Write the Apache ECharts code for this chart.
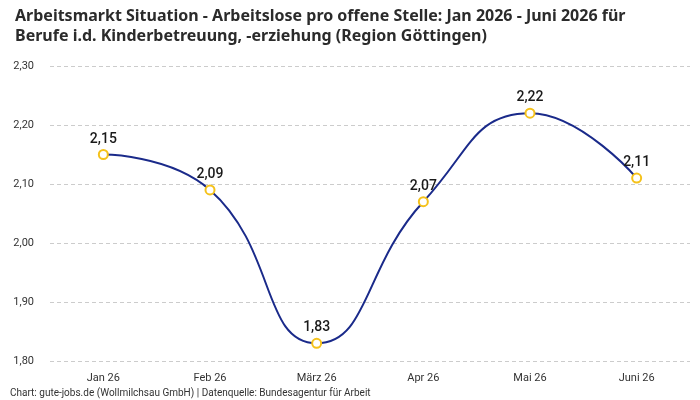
<!DOCTYPE html>
<html>
<head>
    <meta charset="utf-8">
    <title>Arbeitsmarkt Situation</title>
    <script src="https://cdn.jsdelivr.net/npm/echarts@6/dist/echarts.min.js"></script>
    <style>
        body { margin: 0; background: #fff; }
    </style>
</head>
<body>
    <div id="main" style="width: 700px;height:400px;"></div>
    <script type="text/javascript">
        var months = ['Jan 26', 'Feb 26', 'März 26', 'Apr 26', 'Mai 26', 'Juni 26'];
        var ratio = [2.15, 2.09, 1.83, 2.07, 2.22, 2.11];
        var yTicks = { min: 1.8, max: 2.3, interval: 0.1 };

        function comma(v, digits) {
            return v.toFixed(digits).replace('.', ',');
        }

        var myChart = echarts.init(document.getElementById('main'));
        var option = {
            animation: false,
            textStyle: { fontFamily: 'Roboto' },
            title: [{
                text: 'Arbeitsmarkt Situation - Arbeitslose pro offene Stelle: Jan 2026 - Juni 2026 für\nBerufe i.d. Kinderbetreuung, -erziehung (Region Göttingen)',
                left: 10,
                top: 1,
                textStyle: {
                    fontFamily: 'Noto Sans',
                    fontSize: 16,
                    fontWeight: 'bold',
                    color: '#2b2b2b',
                    lineHeight: 20
                }
            }, {
                text: 'Chart: gute-jobs.de (Wollmilchsau GmbH) | Datenquelle: Bundesagentur für Arbeit',
                left: 10,
                top: 388,
                padding: 0,
                textStyle: {
                    fontFamily: 'Roboto',
                    fontSize: 10,
                    fontWeight: 'normal',
                    color: '#333'
                }
            }],
            grid: { left: 50, right: 10, top: 66, bottom: 39 },
            xAxis: {
                type: 'category',
                data: months,
                boundaryGap: true,
                axisLine: { show: false },
                axisTick: { show: false },
                axisLabel: { color: '#333', fontSize: 11, margin: 12 }
            },
            yAxis: {
                type: 'value',
                min: yTicks.min,
                max: yTicks.max,
                interval: yTicks.interval,
                axisLabel: {
                    color: '#333', fontSize: 11, margin: 16,
                    formatter: function (v) { return comma(v, 2); }
                },
                splitLine: { lineStyle: { color: '#ccc', type: [4, 3] } }
            },
            series: [{
                type: 'line',
                data: ratio,
                smooth: 0.5,
                symbol: 'circle',
                symbolSize: 9,
                lineStyle: { color: '#1a2a8a', width: 2 },
                itemStyle: { color: '#fff', borderColor: '#f5c21b', borderWidth: 2 },
                label: {
                    show: true,
                    position: 'top',
                    distance: 3,
                    fontSize: 14,
                    fontWeight: 500,
                    color: '#1a1a1a',
                    formatter: function (p) { return comma(p.value, 2); }
                }
            }]
        };
        myChart.setOption(option);
    </script>
</body>
</html>
